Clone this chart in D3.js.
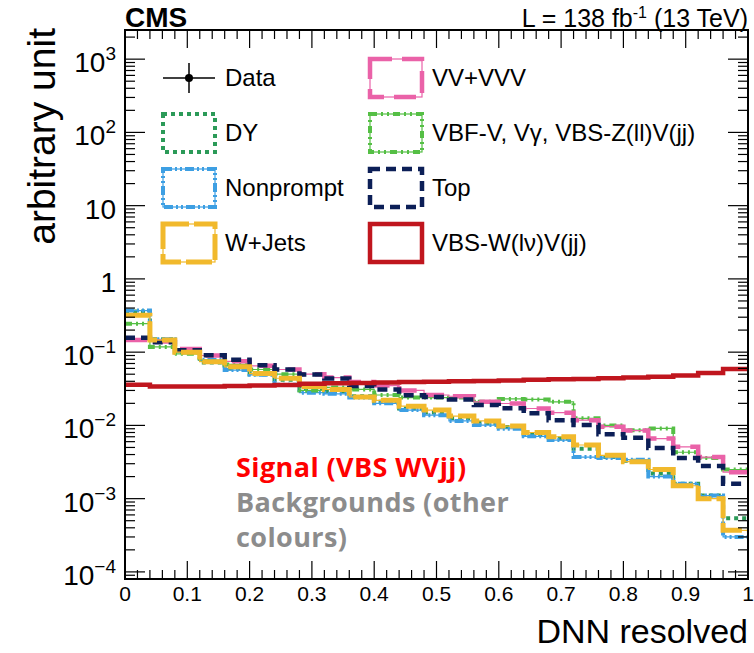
<!DOCTYPE html>
<html>
<head>
<meta charset="utf-8">
<script src="https://cdn.jsdelivr.net/npm/d3@7"></script>
<style>
  body { margin: 0; background: #fff; }
  text { font-family: "Liberation Sans", Arial, Helvetica, sans-serif; }
</style>
</head>
<body>
<div id="chart"></div>
<script>
// ------------------------------ DATA ------------------------------
var binEdges = [0, 0.04, 0.08, 0.12, 0.16, 0.2, 0.24, 0.28, 0.32, 0.36, 0.4, 0.44, 0.48,
                0.52, 0.56, 0.6, 0.64, 0.68, 0.72, 0.76, 0.8, 0.84, 0.88, 0.92, 0.96, 1.0];

var signalVBS = [0.036, 0.034, 0.034, 0.034, 0.0345, 0.035, 0.0355, 0.037, 0.0375, 0.038, 0.0385, 0.039, 0.0395,
                 0.040, 0.0405, 0.041, 0.042, 0.0425, 0.043, 0.044, 0.045, 0.046, 0.048, 0.052, 0.059];
var wJets = [0.32, 0.146, 0.10, 0.074, 0.063, 0.051, 0.044, 0.034, 0.031, 0.0245, 0.022, 0.0183, 0.0162,
             0.0134, 0.0115, 0.0098, 0.0080, 0.0070, 0.0054, 0.0039, 0.0032, 0.0025, 0.0015, 0.0010, 0.00037];
var nonprompt = [0.37, 0.15, 0.105, 0.078, 0.057, 0.049, 0.036, 0.028, 0.027, 0.024, 0.020, 0.0162, 0.0138,
                 0.0115, 0.0101, 0.009, 0.0071, 0.0063, 0.0037, 0.0036, 0.0034, 0.0020, 0.0016, 0.0011, 0.00030];
var drellYan = [0.36, 0.15, 0.10, 0.072, 0.060, 0.050, 0.042, 0.032, 0.029, 0.025, 0.021, 0.017, 0.015,
                0.0125, 0.0108, 0.0095, 0.0076, 0.0066, 0.0048, 0.0037, 0.0033, 0.0022, 0.0016, 0.0011, 0.00054];
var vbfV = [0.245, 0.118, 0.095, 0.075, 0.068, 0.058, 0.050, 0.030, 0.033, 0.031, 0.026, 0.024, 0.024,
            0.024, 0.021, 0.023, 0.0226, 0.021, 0.0125, 0.010, 0.0086, 0.0091, 0.0043, 0.0036, 0.0025];
var topQuark = [0.157, 0.137, 0.106, 0.091, 0.079, 0.066, 0.058, 0.0496, 0.0437, 0.0344, 0.031, 0.0259, 0.0245,
                0.0226, 0.019, 0.0171, 0.0146, 0.0118, 0.0101, 0.0076, 0.0068, 0.0049, 0.0036, 0.0028, 0.0016];
var diboson = [0.146, 0.14, 0.11, 0.09, 0.075, 0.065, 0.058, 0.050, 0.045, 0.039, 0.035, 0.030, 0.026,
               0.025, 0.021, 0.0199, 0.017, 0.0149, 0.0118, 0.0096, 0.0085, 0.0066, 0.0051, 0.0037, 0.0023];

var xTickLabels = ["0", "0.1", "0.2", "0.3", "0.4", "0.5", "0.6", "0.7", "0.8", "0.9", "1"];
var yDecades = [-4, -3, -2, -1, 0, 1, 2, 3];

// ------------------------------ PLOTTING CONFIG ------------------------------
var width = 754, height = 653,
    frameLeft = 125, frameRight = 748, frameTop = 30, frameBottom = 579,
    yMin = 8e-5, yMax = 2.5e3;

var x = d3.scaleLinear().domain([0, 1]).range([frameLeft, frameRight]);
var y = d3.scaleLog().domain([yMin, yMax]).range([frameBottom, frameTop]);

// drawing order and line styles, back to front
// "thin" adds a hairline under the dashes, the way the ROOT styles look at this size
var series = [
    {name: "DY",        values: drellYan,  color: "#2b9a58", width: 4,   dash: "4,4",         thin: false},
    {name: "Nonprompt", values: nonprompt, color: "#3d9fe3", width: 4,   dash: "9,3,2,3,2,3", thin: true},
    {name: "VBF",       values: vbfV,      color: "#55bf45", width: 4,   dash: "7,4,2,4,2,4", thin: true},
    {name: "VV",        values: diboson,   color: "#ea62a8", width: 4.5, dash: "22,10",       thin: true},
    {name: "Top",       values: topQuark,  color: "#0c1f57", width: 4.5, dash: "10,6",        thin: false},
    {name: "WJets",     values: wJets,     color: "#f1b92c", width: 5,   dash: "26,5",        thin: true},
    {name: "Signal",    values: signalVBS, color: "#c0161e", width: 4.5, dash: null,          thin: false}
];
function styleOf(n) { return series.filter(function (s) { return s.name === n; })[0]; }

// ------------------------------ MAIN ------------------------------
var svg = d3.select("#chart").append("svg")
    .attr("width", width)
    .attr("height", height);

svg.append("rect").attr("width", width).attr("height", height).attr("fill", "#fff");

svg.append("defs").append("clipPath").attr("id", "plotClip")
    .append("rect")
    .attr("x", frameLeft).attr("y", frameTop)
    .attr("width", frameRight - frameLeft).attr("height", frameBottom - frameTop);

var stepLine = d3.line()
    .x(function (d) { return x(d[0]); })
    .y(function (d) { return y(Math.max(d[1], yMin)); })
    .curve(d3.curveStepAfter);

var plot = svg.append("g").attr("clip-path", "url(#plotClip)");

series.forEach(function (s) {
    var pts = s.values.map(function (v, i) { return [binEdges[i], v]; });
    pts.push([binEdges[binEdges.length - 1], s.values[s.values.length - 1]]);
    if (s.thin) {
        plot.append("path")
            .attr("d", stepLine(pts))
            .attr("fill", "none")
            .attr("stroke", s.color)
            .attr("stroke-width", 1.2);
    }
    plot.append("path")
        .attr("d", stepLine(pts))
        .attr("fill", "none")
        .attr("stroke", s.color)
        .attr("stroke-width", s.width)
        .attr("stroke-dasharray", s.dash);
});

// ------------------------------ AXES ------------------------------
var xMinor = d3.range(0, 1.0001, 0.02);

var axisG = svg.append("g").attr("stroke", "#000").attr("stroke-width", 1.2);

xMinor.forEach(function (v) {
    var isMajor = Math.abs(v * 10 - Math.round(v * 10)) < 1e-6;
    var len = isMajor ? 18 : 9;
    axisG.append("line").attr("x1", x(v)).attr("x2", x(v))
        .attr("y1", frameBottom).attr("y2", frameBottom - len);
    axisG.append("line").attr("x1", x(v)).attr("x2", x(v))
        .attr("y1", frameTop).attr("y2", frameTop + len);
});

yDecades.concat([4]).forEach(function (p) {
    for (var m = 1; m <= 9; m++) {
        var v = m * Math.pow(10, p - 1);
        if (v < yMin || v > yMax) continue;
        var len = (m === 1) ? 20 : 10;
        axisG.append("line").attr("x1", frameLeft).attr("x2", frameLeft + len)
            .attr("y1", y(v)).attr("y2", y(v));
        axisG.append("line").attr("x1", frameRight).attr("x2", frameRight - len)
            .attr("y1", y(v)).attr("y2", y(v));
    }
});

svg.append("rect")
    .attr("x", frameLeft).attr("y", frameTop)
    .attr("width", frameRight - frameLeft).attr("height", frameBottom - frameTop)
    .attr("fill", "none").attr("stroke", "#000").attr("stroke-width", 2);

svg.selectAll("text.xtick")
    .data(xTickLabels)
    .enter().append("text")
    .attr("class", "xtick")
    .attr("x", function (d) { return x(+d); })
    .attr("y", 601)
    .attr("text-anchor", "middle")
    .attr("font-size", 21)
    .text(function (d) { return d; });

var yLabels = svg.selectAll("text.ytick")
    .data(yDecades)
    .enter().append("text")
    .attr("class", "ytick")
    .attr("x", 116)
    .attr("y", function (d) { return y(Math.pow(10, d)) + 13; })
    .attr("text-anchor", "end")
    .attr("font-size", 28);

yLabels.each(function (d) {
    var t = d3.select(this);
    if (d === 0) { t.text("1"); return; }
    if (d === 1) { t.text("10"); return; }
    t.append("tspan").text("10");
    t.append("tspan").attr("dy", -12).attr("font-size", 19)
        .text(d < 0 ? "\u2212" + (-d) : d);
});

// axis titles
svg.append("text")
    .attr("x", frameRight).attr("y", 643)
    .attr("text-anchor", "end")
    .attr("font-size", 34)
    .text("DNN resolved");

svg.append("text")
    .attr("transform", "translate(55," + 28 + ") rotate(-90)")
    .attr("text-anchor", "end")
    .attr("font-size", 39)
    .text("arbitrary unit");

// header
svg.append("text")
    .attr("x", frameLeft).attr("y", 27)
    .attr("font-size", 28).attr("font-weight", "bold")
    .text("CMS");

var lumi = svg.append("text")
    .attr("x", frameRight).attr("y", 27)
    .attr("text-anchor", "end")
    .attr("font-size", 25);
lumi.append("tspan").text("L = 138 fb");
lumi.append("tspan").attr("dy", -9).attr("font-size", 16).text("-1");
lumi.append("tspan").attr("dy", 9).text(" (13 TeV)");

// ------------------------------ LEGEND ------------------------------
var legendRows = [78, 133, 188, 243],
    legendCols = [{box: 163, text: 225}, {box: 370, text: 432}];
var legendItems = [
    {label: "Data", col: 0, row: 0, key: null},
    {label: "DY", col: 0, row: 1, key: "DY"},
    {label: "Nonprompt", col: 0, row: 2, key: "Nonprompt"},
    {label: "W+Jets", col: 0, row: 3, key: "WJets"},
    {label: "VV+VVV", col: 1, row: 0, key: "VV"},
    {label: "VBF-V, V\u03b3, VBS-Z(ll)V(jj)", col: 1, row: 1, key: "VBF"},
    {label: "Top", col: 1, row: 2, key: "Top"},
    {label: "VBS-W(l\u03bd)V(jj)", col: 1, row: 3, key: "Signal"}
];

var legend = svg.append("g");
legendItems.forEach(function (item) {
    var cx = legendCols[item.col].box, cy = legendRows[item.row];
    if (item.key === null) {
        legend.append("line").attr("x1", cx).attr("x2", cx + 52)
            .attr("y1", cy).attr("y2", cy).attr("stroke", "#000").attr("stroke-width", 1.5);
        legend.append("line").attr("x1", cx + 26).attr("x2", cx + 26)
            .attr("y1", cy - 15).attr("y2", cy + 15).attr("stroke", "#000").attr("stroke-width", 1.5);
        legend.append("circle").attr("cx", cx + 26).attr("cy", cy).attr("r", 4).attr("fill", "#000");
    } else {
        var s = styleOf(item.key);
        if (s.thin) {
            legend.append("rect")
                .attr("x", cx).attr("y", cy - 19)
                .attr("width", 52).attr("height", 38)
                .attr("fill", "none")
                .attr("stroke", s.color)
                .attr("stroke-width", 1.2);
        }
        legend.append("rect")
            .attr("x", cx).attr("y", cy - 19)
            .attr("width", 52).attr("height", 38)
            .attr("fill", "none")
            .attr("stroke", s.color)
            .attr("stroke-width", s.width)
            .attr("stroke-dasharray", s.dash);
    }
    legend.append("text")
        .attr("x", legendCols[item.col].text)
        .attr("y", cy + 8)
        .attr("font-size", 24)
        .text(item.label);
});

// ------------------------------ ANNOTATION ------------------------------
var note = svg.append("g")
    .attr("font-weight", "bold")
    .attr("font-size", 27)
    .attr("letter-spacing", 0.4);
note.append("text").attr("x", 236).attr("y", 477).attr("fill", "#ff0000")
    .style("font-family", "'Open Sans', sans-serif").text("Signal (VBS WVjj)");
note.append("text").attr("x", 236).attr("y", 512).attr("fill", "#8c8c8c")
    .style("font-family", "'Open Sans', sans-serif").text("Backgrounds (other");
note.append("text").attr("x", 236).attr("y", 547).attr("fill", "#8c8c8c")
    .style("font-family", "'Open Sans', sans-serif").text("colours)");
</script>
</body>
</html>
